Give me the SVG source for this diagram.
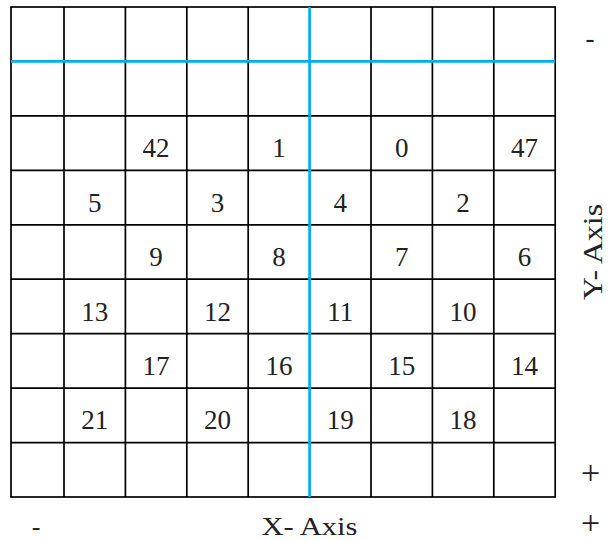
<svg xmlns="http://www.w3.org/2000/svg" width="615" height="541" viewBox="0 0 615 541">
<style>
.g{stroke:#000;stroke-width:1.7;fill:none}
.b{stroke:#00aeef;stroke-width:2.7;fill:none}
.t{font-family:"Liberation Serif","Times New Roman",serif;font-size:27px;fill:#222;text-anchor:middle}
.s{font-family:"Liberation Serif","Times New Roman",serif;font-size:26px;fill:#222;text-anchor:middle}
.p{font-family:"Liberation Serif","Times New Roman",serif;font-size:34px;fill:#222;text-anchor:middle}
</style>
<rect x="0" y="0" width="615" height="541" fill="#fff"/>
<g id="grid">
<rect class="g" x="11" y="7" width="544.2" height="490"/>
<path class="g" d="M64 7V497M125.4 7V497M186.8 7V497M248.2 7V497M371 7V497M432.4 7V497M493.8 7V497M11 115.9H555.2M11 170.3H555.2M11 224.8H555.2M11 279.2H555.2M11 333.7H555.2M11 388.1H555.2M11 442.6H555.2"/>
</g>
<g id="axes-lines">
<path class="b" d="M11 61.4H555.2M309.6 7V497"/>
</g>
<g id="labels">
<text class="t" x="156.1" y="157">42</text>
<text class="t" x="278.9" y="157">1</text>
<text class="t" x="401.7" y="157">0</text>
<text class="t" x="524.5" y="157">47</text>
<text class="t" x="94.7" y="211.5">5</text>
<text class="t" x="217.5" y="211.5">3</text>
<text class="t" x="340.3" y="211.5">4</text>
<text class="t" x="463.1" y="211.5">2</text>
<text class="t" x="156.1" y="266">9</text>
<text class="t" x="278.9" y="266">8</text>
<text class="t" x="401.7" y="266">7</text>
<text class="t" x="524.5" y="266">6</text>
<text class="t" x="94.7" y="320.5">13</text>
<text class="t" x="217.5" y="320.5">12</text>
<text class="t" x="340.3" y="320.5">11</text>
<text class="t" x="463.1" y="320.5">10</text>
<text class="t" x="156.1" y="374.9">17</text>
<text class="t" x="278.9" y="374.9">16</text>
<text class="t" x="401.7" y="374.9">15</text>
<text class="t" x="524.5" y="374.9">14</text>
<text class="t" x="94.7" y="429.4">21</text>
<text class="t" x="217.5" y="429.4">20</text>
<text class="t" x="340.3" y="429.4">19</text>
<text class="t" x="463.1" y="429.4">18</text>
</g>
<g id="axis-text">
<text class="t" x="590" y="47">-</text>
<text class="p" x="590.5" y="483.5">+</text>
<text class="s" x="36" y="535">-</text>
<text class="s" x="309.5" y="535" textLength="96" lengthAdjust="spacingAndGlyphs">X- Axis</text>
<text class="p" x="590.5" y="533.5">+</text>
<text class="t" transform="translate(601.5 252) rotate(-90)" x="0" y="0" textLength="96" lengthAdjust="spacingAndGlyphs">Y- Axis</text>
</g>
</svg>
